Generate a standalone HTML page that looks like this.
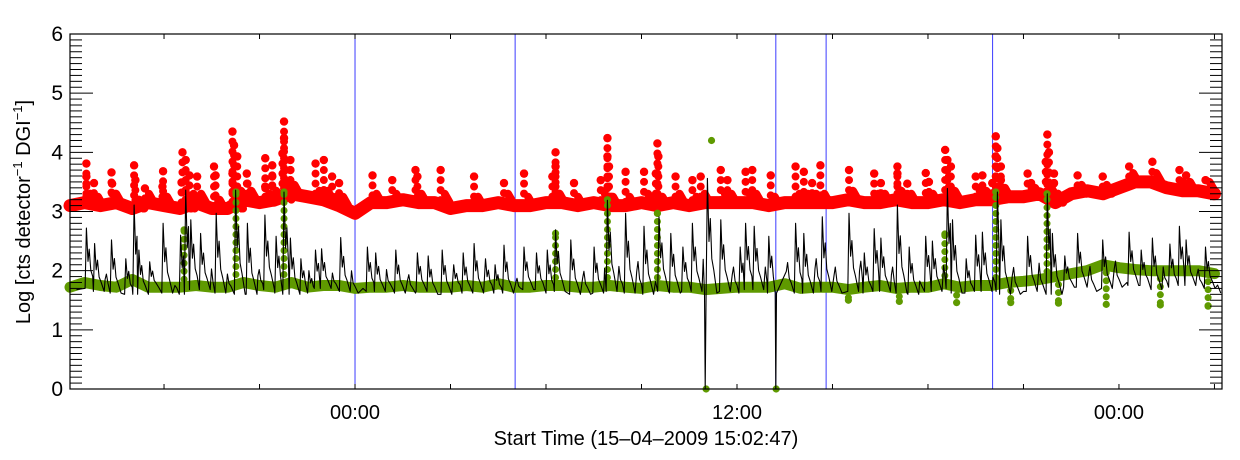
<!DOCTYPE html>
<html><head><meta charset="utf-8">
<style>
html,body{margin:0;padding:0;background:#fff;}
svg{display:block;font-family:"Liberation Sans",sans-serif;}
</style></head>
<body>
<svg id="chart" width="1240" height="460" viewBox="0 0 1240 460" xmlns="http://www.w3.org/2000/svg">
<g id="grid"></g>
<g id="redg"></g>
<g id="greeng"></g>
<g id="blackg"></g>
<g id="axes"></g>
<text x="646" y="445" font-size="20" text-anchor="middle">Start Time (15–04–2009 15:02:47)</text>
<text transform="translate(30,212) rotate(-90)" font-size="20" text-anchor="middle">Log [cts detector<tspan dy="-8" font-size="13">−1</tspan><tspan dy="8"> DGI</tspan><tspan dy="-8" font-size="13">−1</tspan><tspan dy="8">]</tspan></text>
</svg>
<script>
// ---- data ----
const gridTimes = [-9,-8.5,-8,-7.5,-7,-6.5,-6,-5.5,-5,-4.5,-4,-3.5,-3,-2.5,-2,-1.5,-1,-0.5,0,0.5,1,1.5,2,2.5,3,3.5,4,4.5,5,5.5,6,6.5,7,7.5,8,8.5,9,9.5,10,10.5,11,11.5,12,12.5,13,13.5,14,14.5,15,15.5,16,16.5,17,17.5,18,18.5,19,19.5,20,20.5,21,21.5,22,22.5,23,23.5,24,24.5,25,25.5,26,26.5,27];
const redBase = [3.1,3.15,3.1,3.15,3.05,3.15,3.1,3.05,3.15,3.05,3.05,3.2,3.15,3.2,3.3,3.25,3.2,3.1,2.97,3.15,3.15,3.2,3.15,3.15,3.05,3.1,3.1,3.15,3.1,3.1,3.15,3.15,3.1,3.15,3.1,3.1,3.15,3.1,3.15,3.1,3.15,3.15,3.15,3.15,3.1,3.15,3.15,3.15,3.15,3.2,3.15,3.15,3.2,3.15,3.15,3.2,3.15,3.2,3.2,3.25,3.25,3.3,3.15,3.3,3.35,3.3,3.4,3.5,3.5,3.4,3.35,3.35,3.3];
const greenBase = [1.72,1.8,1.75,1.72,1.85,1.72,1.72,1.72,1.75,1.72,1.72,1.8,1.75,1.72,1.8,1.72,1.75,1.75,1.7,1.72,1.72,1.75,1.72,1.72,1.72,1.75,1.72,1.78,1.72,1.72,1.75,1.75,1.72,1.72,1.75,1.72,1.7,1.75,1.72,1.72,1.68,1.7,1.72,1.72,1.72,1.78,1.7,1.72,1.72,1.68,1.72,1.75,1.7,1.72,1.72,1.78,1.72,1.75,1.75,1.8,1.82,1.85,1.9,1.95,2.0,2.1,2.05,2.02,2.0,2.0,2.0,2.0,1.95];
const blackBase = [1.6,1.7,1.65,1.62,1.6,1.7,1.62,1.6,1.68,1.62,1.65,1.6,1.68,1.62,1.6,1.62,1.7,1.65,1.62,1.65,1.68,1.62,1.65,1.6,1.68,1.62,1.65,1.62,1.63,1.68,1.62,1.65,1.6,1.62,1.65,1.62,1.6,1.65,1.62,1.65,1.62,1.65,1.62,1.68,1.62,1.65,1.62,1.65,1.62,1.65,1.62,1.65,1.62,1.6,1.65,1.7,1.62,1.65,1.65,1.6,1.65,1.62,1.6,1.72,1.65,1.7,1.72,1.75,1.68,1.72,1.75,1.7,1.62];
const blackMid = [1.68,1.58,1.72,1.66,1.74,1.6,1.7,1.64,1.58,1.7,1.62,1.72,1.6,1.68,1.7,1.58,1.64,1.6,1.7,1.6,1.62,1.7,1.58,1.66,1.6,1.7,1.58,1.68,1.7,1.6,1.66,1.58,1.68,1.7,1.6,1.66,1.7,1.6,1.68,1.58,1.7,1.6,1.7,1.6,1.66,1.58,1.7,1.6,1.68,1.6,1.7,1.58,1.68,1.7,1.6,1.64,1.7,1.58,1.68,1.7,1.6,1.72,1.66,1.6,1.78,1.62,1.8,1.66,1.8,1.7,1.66,1.78,1.68];
const blackSpikeT = [-8.44,-8.18,-7.65,-6.94,-6.79,-6.03,-5.48,-5.32,-5.16,-4.85,-4.36,-3.75,-3.38,-2.83,-2.48,-2.23,-2.03,-1.24,-1.05,-0.45,0.39,0.65,1.28,1.96,2.74,3.74,4.68,5.31,6.04,6.3,6.78,7.51,7.93,8.5,9.08,9.55,9.92,10.6,11.0,11.07,11.49,12.27,12.54,13.0,13.22,13.84,14.1,14.68,15.52,16.31,16.52,17.04,17.41,17.93,18.14,18.61,18.77,19.5,19.71,20.18,20.29,21.13,21.75,21.91,22.7,23.49,24.32,25.05,25.9,26.11,26.72];
const blackSpikeV = [2.72,2.46,2.52,3.11,2.35,2.8,2.6,3.36,2.86,2.63,2.97,3.36,2.8,2.94,2.58,3.33,2.55,2.35,2.37,2.56,2.4,2.3,2.35,2.3,2.35,2.46,2.43,2.4,2.35,2.69,2.52,2.4,3.19,2.97,2.75,2.91,2.63,2.8,0,3.56,2.86,2.8,2.75,2.58,0,2.8,2.63,2.91,2.97,2.71,2.55,3.11,2.4,2.58,2.5,3.39,2.86,2.6,2.65,3.33,2.86,2.58,3.3,2.63,2.63,2.52,2.65,2.55,2.75,2.52,2.4];
const smallSpikeT = [-7.9,-7.2,-6.45,-5.8,-4.6,-4.1,-3.1,-2.65,-1.7,-1.45,-0.8,-0.2,0.9,1.6,2.3,3.1,3.4,4.1,4.4,5.0,5.7,7.1,7.75,8.2,8.8,9.3,10.3,10.85,11.8,12.1,12.8,13.5,14.4,15.0,15.8,16.0,16.8,17.6,18.4,19.2,19.9,20.6,21.4,22.3,23.0,23.8,24.7,25.3,25.6,26.4,26.9];
const smallSpikeV = [2.1,2.2,2.15,2.05,2.25,2.1,2.2,2.15,2.2,2.0,2.1,2.2,2.2,2.1,2.25,2.1,2.3,2.2,2.1,2.0,2.3,2.2,2.25,2.3,2.45,2.2,2.4,2.5,2.3,2.4,2.3,2.4,2.5,2.3,2.45,2.3,2.3,2.35,2.3,2.2,2.45,2.3,2.4,2.25,2.3,2.4,2.35,2.25,2.45,2.2,2.3];
const greenColT = [-5.37,-3.74,-2.23,6.3,7.93,9.5,18.53,20.13,21.74,15.5,17.1,18.9,20.6,22.1,23.6,25.3,26.8];
const greenColV = [2.69,3.33,3.33,2.63,3.2,2.97,2.62,3.33,3.3,1.5,1.48,1.46,1.46,1.45,1.43,1.42,1.4];
const greenPtT = [11.2,11.03,13.23];
const greenPtV = [4.2,0,0];
const redDotT = [-8.44,-8.44,-8.2,-7.65,-7.63,-6.94,-6.9,-6.6,-6.03,-6.05,-5.42,-5.32,-5.2,-5.45,-4.96,-4.43,-4.38,-3.85,-3.8,-3.85,-3.7,-3.4,-3.38,-2.82,-2.6,-2.6,-2.82,-2.23,-2.23,-2.28,-2.03,-2.03,-1.24,-0.98,-0.72,-0.5,0.55,1.17,1.96,1.9,2.69,3.74,4.68,5.31,6.3,6.3,6.2,6.88,7.93,7.93,7.98,7.72,8.5,9.08,9.5,9.53,9.45,10.07,10.6,10.86,11.49,11.7,12.27,12.48,13.06,13.84,14.1,14.36,14.62,15.52,16.31,16.52,17.04,17.04,17.35,17.93,18.03,18.54,18.61,18.72,18.66,19.5,19.71,20.13,20.18,20.13,20.29,20.29,20.02,21.13,21.24,21.75,21.8,21.7,21.96,21.96,22.7,23.49,24.32,25.05,25.9,26.11,26.72];
const redDotV = [3.81,3.59,3.48,3.66,3.47,3.78,3.53,3.39,3.68,3.42,4.0,3.87,3.61,3.49,3.59,3.76,3.61,4.35,4.12,3.64,3.93,3.64,3.47,3.9,3.78,3.59,3.42,4.52,4.24,3.98,3.87,3.7,3.81,3.87,3.59,3.48,3.61,3.53,3.59,3.7,3.7,3.59,3.48,3.64,4.0,3.76,3.59,3.48,4.24,3.93,3.76,3.53,3.67,3.67,4.15,3.93,3.64,3.59,3.53,3.59,3.7,3.53,3.67,3.7,3.61,3.76,3.67,3.48,3.78,3.7,3.64,3.48,3.76,3.64,3.47,3.65,3.5,4.04,3.87,3.76,3.59,3.59,3.61,4.27,4.07,3.93,3.76,3.53,3.48,3.64,3.48,4.3,4.0,3.84,3.64,3.48,3.61,3.59,3.76,3.84,3.7,3.61,3.53];
const eventTimes = [0,5.03,13.22,14.8,20.03];
const xTickTimes = [-6,-3,0,3,6,9,12,15,18,21,24,27];
const xTickLabels = ["","","00:00","","","","12:00","","","","00:00",""];
const yTickVals = [0,1,2,3,4,5,6];

// ---- scales ----
const X0=70,X1=1222,Y0=389,Y1=34;
const T0=-8.954,T1=27.237;
const X=t=>X0+(t-T0)/(T1-T0)*(X1-X0);
const Y=v=>Y0-(v/6)*(Y0-Y1);
const NS="http://www.w3.org/2000/svg";
function mk(tag,attrs,parent){const e=document.createElementNS(NS,tag);for(const k in attrs)e.setAttribute(k,attrs[k]);parent.appendChild(e);return e;}
const clip=v=>Math.max(T0,Math.min(T1,v));
function baseAt(arr,t){let i=Math.round((t-gridTimes[0])/0.5);i=Math.max(0,Math.min(arr.length-1,i));return arr[i];}

// event lines
const gg=document.getElementById('grid');
eventTimes.forEach(t=>{const l=mk('line',{x1:X(t),x2:X(t),y1:Y1,y2:Y0,stroke:'#3b3bff','stroke-width':1},gg);

});

// red band
const rg=document.getElementById('redg');
let rp=gridTimes.map((t,i)=>X(clip(t)).toFixed(1)+','+Y(redBase[i]).toFixed(1)).join(' ');
const rb=mk('polyline',{points:rp,fill:'none',stroke:'#ff0000','stroke-width':13,'stroke-linejoin':'round','stroke-linecap':'round'},rg);


redDotT.forEach((t,i)=>{const c=mk('circle',{cx:X(t),cy:Y(redDotV[i]),r:4.2,fill:'#ff0000'},rg);


const s=mk('line',{x1:X(t),x2:X(t),y1:Y(redDotV[i]),y2:Y(baseAt(redBase,t)),stroke:'#ff0000','stroke-width':8,'stroke-dasharray':'0 10','stroke-linecap':'round'},rg);


const s2=mk('line',{x1:X(t)+4,x2:X(t)+9,y1:Y(baseAt(redBase,t)+0.15),y2:Y(baseAt(redBase,t)),stroke:'#ff0000','stroke-width':8,'stroke-linecap':'round'},rg);

});

// green
const G='#5f9a00';
const ggr=document.getElementById('greeng');
let gp=gridTimes.map((t,i)=>X(clip(t)).toFixed(1)+','+Y(greenBase[i]).toFixed(1)).join(' ');
const gb=mk('polyline',{points:gp,fill:'none',stroke:G,'stroke-width':11,'stroke-linejoin':'round','stroke-linecap':'round'},ggr);


greenColT.forEach((t,i)=>{const l=mk('line',{x1:X(t),x2:X(t),y1:Y(baseAt(greenBase,t)),y2:Y(greenColV[i]),stroke:G,'stroke-width':7,'stroke-dasharray':'0 8','stroke-linecap':'round'},ggr);


const c=mk('circle',{cx:X(t),cy:Y(greenColV[i]),r:3.6,fill:G},ggr);

});
greenPtT.forEach((t,i)=>{const c=mk('circle',{cx:X(t),cy:Y(greenPtV[i]),r:3.6,fill:G},ggr);

});

// black line
const bg=document.getElementById('blackg');
let pts=gridTimes.map((t,i)=>[t,blackBase[i]]).concat(gridTimes.map((t,i)=>[t+0.25,blackMid[i]]));
function addSpike(t,p){const b=baseAt(blackBase,t);const d=p-b;
 pts=pts.filter(q=>q[0]<t-0.05||q[0]>t+0.32);
 if(p<0.5){pts.push([t-0.02,b],[t,p],[t+0.02,b]);return;}
 pts.push([t-0.04,b],[t,p],[t+0.05,b+0.45*d],[t+0.09,b+0.65*d],[t+0.14,b+0.3*d],[t+0.2,b+0.2*d],[t+0.3,b]);}
smallSpikeT.forEach((t,i)=>addSpike(t,smallSpikeV[i]));
blackSpikeT.forEach((t,i)=>addSpike(t,blackSpikeV[i]));
pts=pts.filter(p=>p[0]>=T0&&p[0]<=T1).sort((a,b)=>a[0]-b[0]);
const bl=mk('polyline',{points:pts.map(p=>X(p[0]).toFixed(1)+','+Y(p[1]).toFixed(1)).join(' '),fill:'none',stroke:'#000','stroke-width':1.1,'stroke-linejoin':'round'},bg);



// axes
const ax=document.getElementById('axes');
const fr=mk('rect',{x:X0,y:Y1,width:X1-X0,height:Y0-Y1,fill:'none',stroke:'#000','stroke-width':1.2},ax);


for(let k=0;k<=60;k++){const v=k/10;const y=Y(v);const major=k%10===0;const L=major?23:12;
mk('line',{x1:X0,x2:X0+L,y1:y,y2:y,stroke:'#000','stroke-width':1},ax);
mk('line',{x1:X1,x2:X1-L,y1:y,y2:y,stroke:'#000','stroke-width':1},ax);}
yTickVals.forEach(v=>{const t=mk('text',{x:63,y:Y(v)+7,'font-size':21,'text-anchor':'end'},ax);t.textContent=v;

});
xTickTimes.forEach((tt,i)=>{const x=X(tt);
mk('line',{x1:x,x2:x,y1:Y0,y2:Y0-5,stroke:'#000','stroke-width':1},ax);
mk('line',{x1:x,x2:x,y1:Y1,y2:Y1+5,stroke:'#000','stroke-width':1},ax);
if(xTickLabels[i]){const t=mk('text',{x:x,y:419,'font-size':20,'text-anchor':'middle'},ax);t.textContent=xTickLabels[i];

}});
</script>
</body></html>
